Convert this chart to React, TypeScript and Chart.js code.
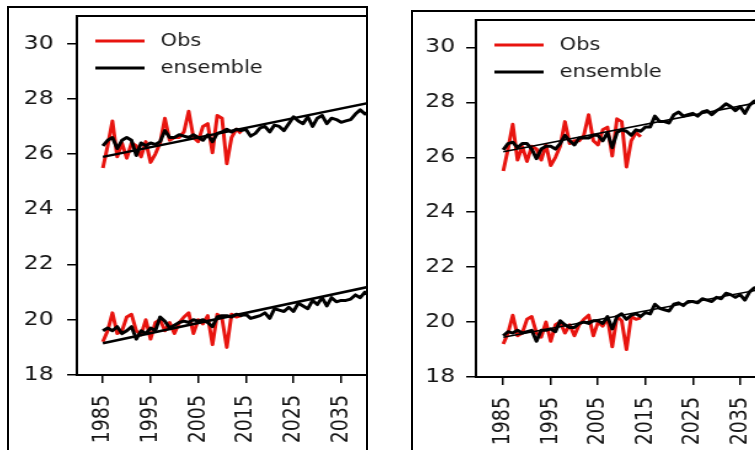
import React, { useEffect, useRef } from "react";
import { Chart, registerables } from "chart.js";

Chart.register(...registerables);

const S = 1.23;
const FONT = "'DejaVu Sans', 'Liberation Sans', sans-serif";

const xTickValues = [1985, 1995, 2005, 2015, 2025, 2035];
const yTickValues = [18, 20, 22, 24, 26, 28, 30];

const obsYears = [
  1985, 1986, 1987, 1988, 1989, 1990, 1991, 1992, 1993, 1994,
  1995, 1996, 1997, 1998, 1999, 2000, 2001, 2002, 2003, 2004,
  2005, 2006, 2007, 2008, 2009, 2010, 2011, 2012, 2013, 2014,
];
const obsHigh = [
  25.5, 26.3, 27.2, 25.9, 26.4, 25.85, 26.4, 26.3, 25.9, 26.45,
  25.7, 26.0, 26.4, 27.3, 26.5, 26.6, 26.6, 26.8, 27.55, 26.6,
  26.45, 27.0, 27.1, 26.05, 27.4, 27.3, 25.65, 26.6, 26.9, 26.75,
];
const obsLow = [
  19.2, 19.6, 20.25, 19.5, 19.6, 20.1, 20.2, 19.6, 19.45, 20.0,
  19.3, 19.9, 20.0, 19.6, 19.9, 19.5, 19.9, 20.1, 20.25, 19.5,
  20.0, 19.85, 20.15, 19.1, 20.2, 20.05, 19.0, 20.2, 20.1, 20.15,
];

const ensYearsA = [
  1985, 1986, 1987, 1988, 1989, 1990, 1991, 1992, 1993, 1994,
  1995, 1996, 1997, 1998, 1999, 2000, 2001, 2002, 2003, 2004,
  2005, 2006, 2007, 2008, 2009, 2010, 2011, 2012, 2013, 2014,
  2015, 2016, 2017, 2018, 2019, 2020, 2021, 2022, 2023, 2024,
  2025, 2026, 2027, 2028, 2029, 2030, 2031, 2032, 2033, 2034,
  2035, 2036, 2037, 2038, 2039, 2040, 2041,
];
const ensHighA = [
  26.3, 26.5, 26.6, 26.2, 26.5, 26.6, 26.5, 25.95, 26.4, 26.3,
  26.4, 26.35, 26.45, 26.85, 26.6, 26.6, 26.7, 26.65, 26.6, 26.7,
  26.6, 26.5, 26.7, 26.45, 26.75, 26.8, 26.9, 26.8, 26.9, 26.85,
  26.9, 26.65, 26.75, 26.95, 27.0, 26.8, 27.05, 27.0, 26.85, 27.1,
  27.35, 27.2, 27.1, 27.35, 27.0, 27.3, 27.4, 27.1, 27.3, 27.25,
  27.15, 27.2, 27.25, 27.45, 27.6, 27.45, 27.55,
];
const ensLowA = [
  19.6, 19.7, 19.6, 19.75, 19.5, 19.6, 19.75, 19.3, 19.6, 19.5,
  19.7, 19.6, 20.1, 19.95, 19.7, 19.8, 19.9, 19.95, 19.9, 20.0,
  19.95, 20.0, 19.9, 19.75, 20.1, 20.15, 20.15, 20.1, 20.2, 20.15,
  20.2, 20.05, 20.1, 20.15, 20.25, 20.05, 20.4, 20.35, 20.3, 20.45,
  20.3, 20.6, 20.5, 20.4, 20.7, 20.55, 20.8, 20.5, 20.8, 20.65,
  20.7, 20.7, 20.75, 20.9, 20.8, 21.0, 20.85,
];

const ensYearsB = [
  1985, 1986, 1987, 1988, 1989, 1990, 1991, 1992, 1993, 1994,
  1995, 1996, 1997, 1998, 1999, 2000, 2001, 2002, 2003, 2004,
  2005, 2006, 2007, 2008, 2009, 2010, 2011, 2012, 2013, 2014,
  2015, 2016, 2017, 2018, 2019, 2020, 2021, 2022, 2023, 2024,
  2025, 2026, 2027, 2028, 2029, 2030, 2031, 2032, 2033, 2034,
  2035, 2036, 2037, 2038, 2039,
];
const ensHighB = [
  26.27, 26.5, 26.55, 26.35, 26.5, 26.5, 26.3, 25.95, 26.3, 26.4,
  26.4, 26.3, 26.5, 26.8, 26.6, 26.45, 26.7, 26.7, 26.7, 26.8,
  26.8, 26.6, 26.9, 26.35, 26.9, 27.0, 26.95, 26.8, 27.0, 26.95,
  27.1, 27.1, 27.5, 27.3, 27.3, 27.25, 27.55, 27.65, 27.5, 27.55,
  27.6, 27.5, 27.65, 27.7, 27.55, 27.7, 27.8, 27.95, 27.85, 27.7,
  27.85, 27.6, 27.9, 28.05, 28.0,
];
const ensLowB = [
  19.5, 19.65, 19.6, 19.7, 19.6, 19.65, 19.7, 19.3, 19.7, 19.7,
  19.75, 19.65, 20.05, 19.9, 19.8, 19.8, 19.95, 20.0, 19.95, 20.05,
  20.05, 19.95, 20.2, 19.75, 20.2, 20.3, 20.1, 20.25, 20.3, 20.2,
  20.35, 20.3, 20.65, 20.5, 20.45, 20.4, 20.65, 20.7, 20.6, 20.75,
  20.75, 20.7, 20.85, 20.8, 20.75, 20.9, 20.85, 21.05, 21.0, 20.9,
  21.0, 20.8, 21.1, 21.25, 21.2,
];

const trendYears = [1985, 2045];
const trendHighA = [25.9, 28.0];
const trendLowA = [19.15, 21.35];
const trendHighB = [26.2, 28.2];
const trendLowB = [19.45, 21.37];

const legendLabels = ["Obs", "ensemble"];
const legendColors = ["#e8140f", "#000000"];

const pts = (xs: number[], ys: number[]) => xs.map((x, i) => ({ x, y: ys[i] }));

const spinePlugin = {
  id: "topSpine",
  afterDraw(chart: any) {
    const { ctx, chartArea: a } = chart;
    ctx.save();
    ctx.strokeStyle = "#000";
    ctx.lineWidth = 2;
    ctx.beginPath();
    ctx.moveTo(a.left - 1, a.top);
    ctx.lineTo(a.right, a.top);
    ctx.stroke();
    ctx.restore();
  },
};

const legendPlugin = {
  id: "insideLegend",
  afterDatasetsDraw(chart: any) {
    const { ctx, chartArea: a } = chart;
    ctx.save();
    legendLabels.forEach((label, i) => {
      const y = a.top + 25 + i * 27;
      ctx.strokeStyle = legendColors[i];
      ctx.lineWidth = 3;
      ctx.beginPath();
      ctx.moveTo(a.left + 15, y);
      ctx.lineTo(a.left + 55, y);
      ctx.stroke();
      ctx.fillStyle = "#1a1a1a";
      ctx.font = `17px ${FONT}`;
      ctx.textAlign = "left";
      ctx.textBaseline = "middle";
      ctx.fillText(label, a.left + 68, y + 1);
    });
    ctx.restore();
  },
};

type PanelProps = {
  left: number;
  top: number;
  width: number;
  height: number;
  yWidth: number;
  xHeight: number;
  yPad: number;
  xMin: number;
  xMax: number;
  ensYears: number[];
  ensHigh: number[];
  ensLow: number[];
  trendHigh: number[];
  trendLow: number[];
  trendWidth: number;
};

function Panel(p: PanelProps) {
  const ref = useRef<HTMLCanvasElement>(null);
  useEffect(() => {
    const common = {
      pointRadius: 0,
      tension: 0,
      fill: false,
      clip: 0,
      borderJoinStyle: "round" as const,
      borderCapStyle: "butt" as const,
    };
    const chart = new Chart(ref.current as HTMLCanvasElement, {
      type: "line",
      data: {
        datasets: [
          { ...common, label: "trendHigh", data: pts(trendYears, p.trendHigh), borderColor: "#000", borderWidth: p.trendWidth },
          { ...common, label: "trendLow", data: pts(trendYears, p.trendLow), borderColor: "#000", borderWidth: p.trendWidth },
          { ...common, label: "ensembleHigh", data: pts(p.ensYears, p.ensHigh), borderColor: "#000", borderWidth: 3 },
          { ...common, label: "ensembleLow", data: pts(p.ensYears, p.ensLow), borderColor: "#000", borderWidth: 3 },
          { ...common, label: "ObsHigh", data: pts(obsYears, obsHigh), borderColor: legendColors[0], borderWidth: 3 },
          { ...common, label: "ObsLow", data: pts(obsYears, obsLow), borderColor: legendColors[0], borderWidth: 3 },
        ],
      },
      options: {
        animation: false,
        responsive: false,
        maintainAspectRatio: false,
        events: [],
        layout: { padding: { top: 9, left: 0, right: 0, bottom: 0 } },
        plugins: { legend: { display: false }, tooltip: { enabled: false } },
        scales: {
          x: {
            type: "linear",
            min: p.xMin,
            max: p.xMax,
            afterBuildTicks: (s: any) => {
              s.ticks = xTickValues.map((v) => ({ value: v }));
            },
            afterFit: (s: any) => {
              s.height = p.xHeight;
              s.paddingLeft = 0;
              s.paddingRight = 0;
            },
            ticks: {
              autoSkip: false,
              minRotation: 90,
              maxRotation: 90,
              padding: 12,
              color: "#151515",
              font: { family: FONT, size: 19 },
              callback: (v: any) => String(v),
            },
            grid: { drawOnChartArea: false, drawTicks: true, tickLength: 8, color: "#000", lineWidth: 1.5 },
            border: { display: true, color: "#000", width: 2 },
          },
          y: {
            type: "linear",
            min: 18,
            max: 31,
            afterBuildTicks: (s: any) => {
              s.ticks = yTickValues.map((v) => ({ value: v }));
            },
            afterFit: (s: any) => {
              s.width = p.yWidth;
              s.paddingTop = 0;
              s.paddingBottom = 0;
            },
            ticks: {
              padding: p.yPad,
              color: "#151515",
              font: { family: FONT, size: 19 },
              callback: (v: any) => String(v),
            },
            grid: { drawOnChartArea: false, drawTicks: true, tickLength: 8, color: "#000", lineWidth: 1.5 },
            border: { display: true, color: "#000", width: 2 },
          },
        },
      },
      plugins: [spinePlugin, legendPlugin],
    } as any);
    return () => chart.destroy();
  }, []);
  return (
    <canvas
      ref={ref}
      width={p.width}
      height={p.height}
      style={{
        position: "absolute",
        left: p.left,
        top: p.top,
        width: p.width,
        height: p.height,
        transform: `scaleX(${S})`,
        transformOrigin: "0 0",
      }}
    />
  );
}

export default function App() {
  return (
    <div
      style={{
        position: "absolute",
        left: 0,
        top: 0,
        width: 755,
        height: 450,
        overflow: "hidden",
        background: "#fff",
      }}
    >
      <Panel
        left={8}
        top={7}
        width={292}
        height={443}
        yWidth={56}
        xHeight={75}
        yPad={11}
        xMin={1979.54}
        xMax={2040.46}
        ensYears={ensYearsA}
        ensHigh={ensHighA}
        ensLow={ensLowA}
        trendHigh={trendHighA}
        trendLow={trendLowA}
        trendWidth={2.5}
      />
      <Panel
        left={412}
        top={11}
        width={279}
        height={439}
        yWidth={52}
        xHeight={73}
        yPad={9}
        xMin={1979.23}
        xMax={2038.17}
        ensYears={ensYearsB}
        ensHigh={ensHighB}
        ensLow={ensLowB}
        trendHigh={trendHighB}
        trendLow={trendLowB}
        trendWidth={1.6}
      />
      <div
        style={{
          position: "absolute",
          left: 7,
          top: 6,
          width: 361,
          height: 470,
          boxSizing: "border-box",
          borderLeft: "2px solid #000",
          borderTop: "2px solid #000",
          borderRight: "2px solid #000",
        }}
      />
      <div
        style={{
          position: "absolute",
          left: 411,
          top: 10,
          width: 400,
          height: 470,
          boxSizing: "border-box",
          borderLeft: "2px solid #000",
          borderTop: "2px solid #000",
        }}
      />
    </div>
  );
}
